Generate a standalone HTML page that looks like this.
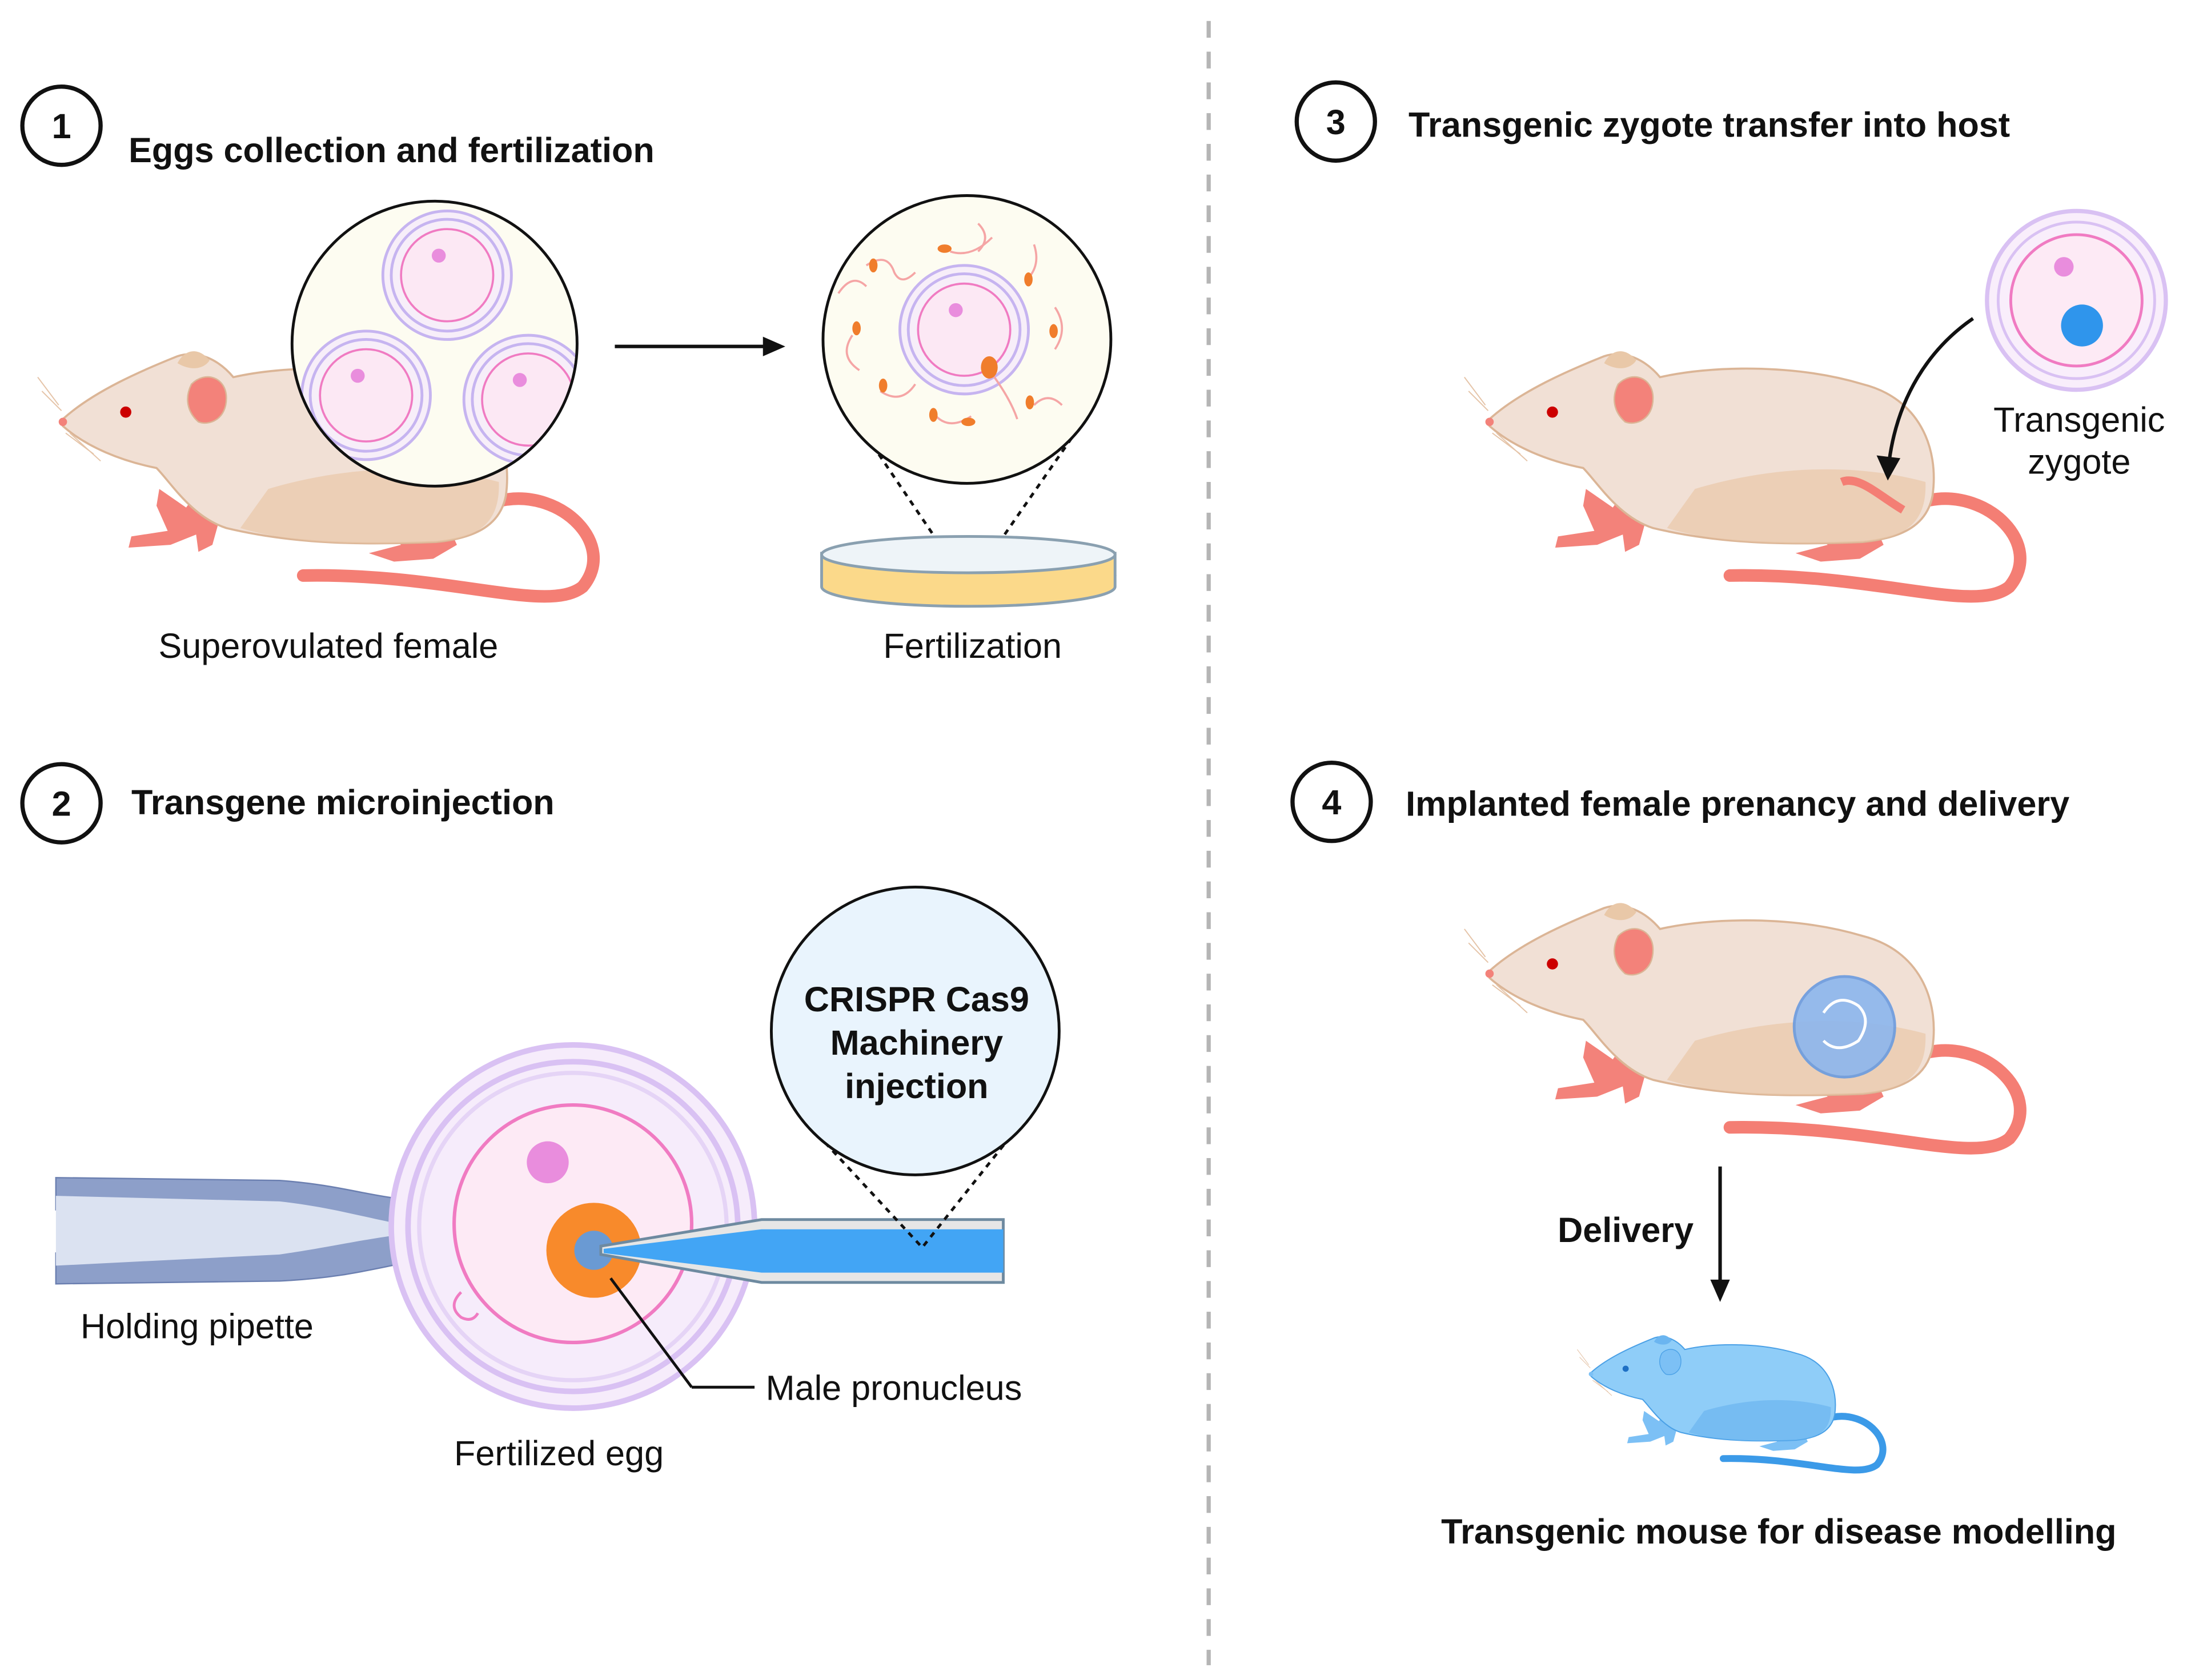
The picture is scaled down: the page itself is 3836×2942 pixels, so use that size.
<!DOCTYPE html>
<html><head><meta charset="utf-8"><style>
html,body{margin:0;padding:0;background:#fff;}
svg{display:block;}
text{font-family:"Liberation Sans",sans-serif;fill:#111;}
.h{font-weight:bold;font-size:25px;}
.l{font-size:25px;}
</style></head><body>
<svg width="3836" height="2942" viewBox="0 0 1568 1202.6" preserveAspectRatio="none" xmlns="http://www.w3.org/2000/svg">
<defs>
<g id="mouse">
  <path d="M318,108 C360,100 400,140 375,170 C350,190 280,160 175,162" fill="none" style="stroke:var(--tail)" stroke-width="9" stroke-linecap="round"/>
  <path d="M72,100 L98,118 L100,132 L80,140 L50,142 L52,134 L78,130 L70,112Z" style="fill:var(--ear)"/>
  <path d="M95,108 L115,122 L110,140 L100,145 L98,130 L90,115Z" style="fill:var(--ear)"/>
  <path d="M220,120 L275,118 L285,140 L268,150 L240,152 L222,146 L245,140 L232,130Z" style="fill:var(--ear)"/>
  <path d="M3,50 C25,30 60,15 85,5 C100,0 115,8 125,20 C160,12 220,10 270,25 C310,35 325,70 320,105 C316,125 300,135 270,138 C220,140 170,140 120,128 C95,120 80,95 70,85 C45,80 20,70 3,55 Z" style="fill:var(--body);stroke:var(--edge)" stroke-width="1.5"/>
  <path d="M150,100 C200,85 260,80 315,95 C316,125 300,135 270,138 C220,140 170,140 130,128 Z" style="fill:var(--dark)" opacity="0.7"/>
  <path d="M85,10 C90,0 100,-2 108,8 C104,14 95,16 85,10Z" style="fill:var(--dark)"/>
  <path d="M95,25 C105,15 120,20 120,35 C120,50 108,55 100,52 C92,45 90,35 95,25Z" style="fill:var(--ear);stroke:var(--edge)" stroke-width="1"/>
  <circle cx="48" cy="45" r="4" style="fill:var(--eye)"/>
  <circle cx="3" cy="52" r="3" style="fill:var(--ear)"/>
  <path d="M0,40 L-15,20 M2,44 L-12,30 M5,60 L25,75 M8,60 L30,80" stroke="#e5c4a8" stroke-width="0.8"/>
</g>
<g id="egg">
  <circle r="46" fill="#f7eef9" stroke="#c6b4f0" stroke-width="2"/>
  <circle r="40" fill="none" stroke="#c6b4f0" stroke-width="2"/>
  <circle r="33" fill="#fce8f4" stroke="#f07bc2" stroke-width="1.5"/>
  <circle cx="-6" cy="-14" r="5" fill="#e98ddd"/>
</g>
</defs>

<line x1="865" y1="15" x2="865" y2="1192" stroke="#b5b5b5" stroke-width="3" stroke-dasharray="12,10"/>

<!-- Step 1 -->
<circle cx="44" cy="90" r="28" fill="none" stroke="#111" stroke-width="3"/>
<text x="44" y="99" class="h" text-anchor="middle">1</text>
<text x="92" y="116" class="h">Eggs collection and fertilization</text>
<use href="#mouse" transform="translate(42,250)" style="--body:#f1e0d5;--dark:#e9c8a8;--edge:#dbb596;--ear:#f3827a;--tail:#f47e74;--eye:#c00"/>
<circle cx="311" cy="246" r="102" fill="#fdfcf1" stroke="#111" stroke-width="2"/>
<clipPath id="c1"><circle cx="311" cy="246" r="101"/></clipPath>
<g clip-path="url(#c1)">
<use href="#egg" transform="translate(320,197)"/>
<use href="#egg" transform="translate(262,283)"/>
<use href="#egg" transform="translate(378,286)"/>
</g>
<line x1="440" y1="248" x2="550" y2="248" stroke="#111" stroke-width="2.5"/>
<polygon points="562,248 546,241 546,255" fill="#111"/>
<path d="M620,312 L693,420 L768,312" fill="none" stroke="#111" stroke-width="2" stroke-dasharray="4,4"/>
<ellipse cx="693" cy="412" rx="105" ry="15" fill="#fbd98a" stroke="#8aa0b0" stroke-width="2"/>
<path d="M588,395 L588,420 A105,14 0 0 0 798,420 L798,395" fill="#fbd98a" stroke="#8aa0b0" stroke-width="2"/>
<ellipse cx="693" cy="397" rx="105" ry="13" fill="#eef4f8" stroke="#8aa0b0" stroke-width="2"/>
<circle cx="692" cy="243" r="103" fill="#fdfcf1" stroke="#111" stroke-width="2"/>
<use href="#egg" transform="translate(690,236)"/>
<g stroke="#f5a5a5" stroke-width="1.5" fill="none">
<path d="M620,190 q15,-10 20,5 q5,10 15,0"/><path d="M680,180 q15,5 30,-10"/><path d="M740,175 q5,15 -5,25"/><path d="M755,220 q10,15 0,30"/><path d="M610,240 q-10,15 5,25"/><path d="M630,280 q15,10 25,-5"/><path d="M670,298 q10,10 25,0"/><path d="M708,265 q15,20 20,35"/><path d="M740,290 q10,-10 20,0"/><path d="M600,210 q10,-15 20,-5"/><path d="M700,160 q10,10 0,20"/>
</g>
<g fill="#f07d2c">
<ellipse cx="708" cy="263" rx="6" ry="8"/><ellipse cx="625" cy="190" rx="3" ry="5"/><ellipse cx="676" cy="178" rx="5" ry="3"/><ellipse cx="736" cy="200" rx="3" ry="5"/><ellipse cx="754" cy="237" rx="3" ry="5"/><ellipse cx="613" cy="235" rx="3" ry="5"/><ellipse cx="632" cy="276" rx="3" ry="5"/><ellipse cx="668" cy="297" rx="3" ry="5"/><ellipse cx="737" cy="288" rx="3" ry="5"/><ellipse cx="693" cy="302" rx="5" ry="3"/>
</g>
<text x="235" y="471" class="l" text-anchor="middle">Superovulated female</text>
<text x="696" y="471" class="l" text-anchor="middle">Fertilization</text>

<!-- Step 2 -->
<circle cx="44" cy="575" r="28" fill="none" stroke="#111" stroke-width="3"/>
<text x="44" y="584" class="h" text-anchor="middle">2</text>
<text x="94" y="583" class="h">Transgene microinjection</text>
<path d="M40,843 L200,845 C240,848 260,855 285,858 L285,878 C260,875 240,868 200,866 L40,866Z" fill="#8d9fc9" stroke="#6b7fb0"/>
<path d="M40,897 L200,895 C240,892 260,885 285,882 L285,905 C260,910 240,915 200,917 L40,919Z" fill="#8d9fc9" stroke="#6b7fb0"/>
<path d="M40,856 L200,860 C235,864 255,870 285,876 L285,884 C255,888 235,893 200,898 L40,906Z" fill="#dbe2f1"/>
<circle cx="410" cy="878" r="130" fill="#f6ecfb" stroke="#d9c1f3" stroke-width="4"/>
<circle cx="410" cy="878" r="118" fill="none" stroke="#d9c1f3" stroke-width="4"/>
<circle cx="410" cy="878" r="110" fill="none" stroke="#e5d4f6" stroke-width="3"/>
<circle cx="410" cy="876" r="85" fill="#fdeaf5" stroke="#f07bc2" stroke-width="2.5"/>
<circle cx="392" cy="832" r="15" fill="#e98ddd"/>
<path d="M330,925 q-10,10 0,18 q8,4 12,-3" fill="none" stroke="#f07bc2" stroke-width="2"/>
<circle cx="425" cy="895" r="34" fill="#f88a2b"/>
<circle cx="425" cy="895" r="14" fill="#5a9be6" opacity="0.9"/>
<path d="M430,892 L545,873 L718,873 L718,918 L545,918 L430,898Z" fill="#e6e6e6" stroke="#6e8aa0" stroke-width="2"/>
<path d="M432,894 L545,880 L718,880 L718,911 L545,911 L432,897Z" fill="#42a5f5"/>
<line x1="437" y1="915" x2="495" y2="993" stroke="#111" stroke-width="2"/>
<line x1="495" y1="993" x2="540" y2="993" stroke="#111" stroke-width="2"/>
<path d="M585,812 L660,893 L722,815" fill="none" stroke="#111" stroke-width="2" stroke-dasharray="4,4"/>
<circle cx="655" cy="738" r="103" fill="#e9f4fd" stroke="#111" stroke-width="2"/>
<text x="656" y="724" class="h" text-anchor="middle">CRISPR Cas9</text>
<text x="656" y="755" class="h" text-anchor="middle">Machinery</text>
<text x="656" y="786" class="h" text-anchor="middle">injection</text>
<text x="141" y="958" class="l" text-anchor="middle">Holding pipette</text>
<text x="548" y="1002" class="l">Male pronucleus</text>
<text x="400" y="1049" class="l" text-anchor="middle">Fertilized egg</text>

<!-- Step 3 -->
<circle cx="956" cy="87" r="28" fill="none" stroke="#111" stroke-width="3"/>
<text x="956" y="96" class="h" text-anchor="middle">3</text>
<text x="1008" y="98" class="h">Transgenic zygote transfer into host</text>
<use href="#mouse" transform="translate(1063,250)" style="--body:#f1e0d5;--dark:#e9c8a8;--edge:#dbb596;--ear:#f3827a;--tail:#f47e74;--eye:#c00"/>
<path d="M1318,345 C1330,340 1345,355 1362,365" fill="none" stroke="#f47e74" stroke-width="6"/>
<circle cx="1486" cy="215" r="64" fill="#f9eefb" stroke="#d9c1f3" stroke-width="3"/>
<circle cx="1486" cy="215" r="56" fill="none" stroke="#d9c1f3" stroke-width="2"/>
<circle cx="1486" cy="215" r="47" fill="#fdeaf5" stroke="#f07bc2" stroke-width="2"/>
<circle cx="1477" cy="191" r="7" fill="#e98ddd"/>
<circle cx="1490" cy="233" r="15" fill="#2f95ec"/>
<path d="M1412,228 C1380,250 1358,285 1352,330" fill="none" stroke="#111" stroke-width="2.5"/>
<polygon points="1351,344 1343,326 1360,328" fill="#111"/>
<text x="1488" y="309" class="l" text-anchor="middle">Transgenic</text>
<text x="1488" y="339" class="l" text-anchor="middle">zygote</text>

<!-- Step 4 -->
<circle cx="953" cy="574" r="28" fill="none" stroke="#111" stroke-width="3"/>
<text x="953" y="583" class="h" text-anchor="middle">4</text>
<text x="1006" y="584" class="h">Implanted female prenancy and delivery</text>
<use href="#mouse" transform="translate(1063,645)" style="--body:#f1e0d5;--dark:#e9c8a8;--edge:#dbb596;--ear:#f3827a;--tail:#f47e74;--eye:#c00"/>
<circle cx="1320" cy="735" r="36" fill="#8cb6ee" stroke="#6a9be0" stroke-width="2" opacity="0.9"/>
<path d="M1305,725 q10,-15 25,-5 q10,10 0,25 q-15,10 -25,0" fill="none" stroke="#fff" stroke-width="2"/>
<line x1="1231" y1="835" x2="1231" y2="918" stroke="#111" stroke-width="2.5"/>
<polygon points="1231,932 1224,916 1238,916" fill="#111"/>
<text x="1212" y="889" class="h" text-anchor="end">Delivery</text>
<use href="#mouse" transform="translate(1137,955) scale(0.55)" style="--body:#8fcdf8;--dark:#6bb5f0;--edge:#4aa0e6;--ear:#7cc0f5;--tail:#3b9ae8;--eye:#1e6fc4"/>
<text x="1273" y="1105" class="h" text-anchor="middle">Transgenic mouse for disease modelling</text>
</svg>
</body></html>
